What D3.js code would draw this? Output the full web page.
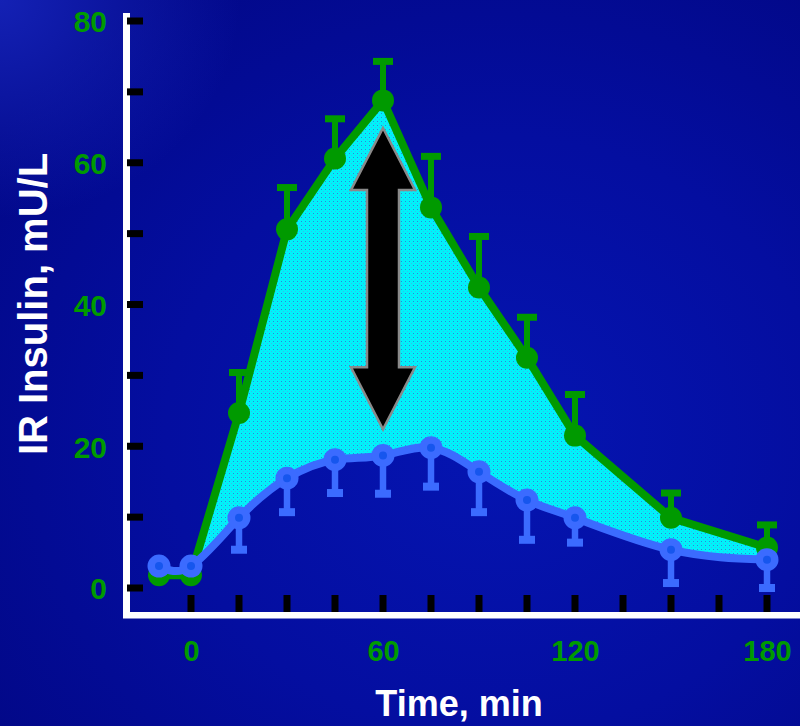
<!DOCTYPE html>
<html>
<head>
<meta charset="utf-8">
<script src="https://cdn.jsdelivr.net/npm/d3@7"></script>
<style>
  html, body { margin: 0; padding: 0; background: #030a8e; }
  svg { display: block; }
  text { font-family: "Liberation Sans", Arial, sans-serif; font-weight: bold; }
</style>
</head>
<body>
<svg id="chart" width="800" height="726"></svg>
<script>
// Time points (min)
const times = [-10, 0, 15, 30, 45, 60, 75, 90, 105, 120, 150, 180];
// Upper group: mean insulin and upper error bound (mU/L)
const greenMean  = [1.8, 1.8, 24.7, 50.6, 60.6, 68.8, 53.7, 42.4, 32.5, 21.5, 9.9, 5.7];
const greenUpper = [null, null, 30.4, 56.5, 66.2, 74.3, 60.9, 49.6, 38.2, 27.3, 13.4, 8.9];
// Lower group: mean insulin and lower error bound (mU/L)
const blueMean  = [3.1, 3.1, 9.9, 15.5, 18.1, 18.7, 19.8, 16.4, 12.4, 9.9, 5.4, 4.0];
const blueLower = [null, null, 5.4, 10.7, 13.4, 13.3, 14.3, 10.7, 6.8, 6.4, 0.7, 0.0];
// Axis ticks
const yTickLabels = [0, 20, 40, 60, 80];
const yTickMarks = [0, 10, 20, 30, 40, 50, 60, 70, 80];
const xTickLabels = [0, 60, 120, 180];
const xTickMarks = [0, 15, 30, 45, 60, 75, 90, 105, 120, 135, 150, 165, 180];
// Difference arrow at 60 min (value range)
const arrowTime = 60;
const arrowRange = [22.4, 64.9];

const GREEN = "#009a00";
const BLUE = "#3b6bff";
const BLUE_DARK = "#1656ee";

const svg = d3.select("#chart");
const W = 800, H = 726;

const x = d3.scaleLinear().domain([0, 180]).range([191, 767]);
const y = d3.scaleLinear().domain([0, 80]).range([588, 21]);

// ---- background ----
const defs = svg.append("defs");
const bg = defs.append("radialGradient").attr("id", "bg")
  .attr("cx", 0.62).attr("cy", 0.6).attr("r", 0.75);
bg.append("stop").attr("offset", "0%").attr("stop-color", "#0515b2");
bg.append("stop").attr("offset", "55%").attr("stop-color", "#040ea0");
bg.append("stop").attr("offset", "100%").attr("stop-color", "#020888");
const glow = defs.append("radialGradient").attr("id", "glow")
  .attr("cx", 0).attr("cy", 0).attr("r", 0.3);
glow.append("stop").attr("offset", "0%").attr("stop-color", "#2235d8").attr("stop-opacity", 0.55);
glow.append("stop").attr("offset", "100%").attr("stop-color", "#2235d8").attr("stop-opacity", 0);
svg.append("rect").attr("width", W).attr("height", H).attr("fill", "url(#bg)");
svg.append("rect").attr("width", W).attr("height", H).attr("fill", "url(#glow)");

// dotted cyan fill
const pat = defs.append("pattern").attr("id", "dots")
  .attr("patternUnits", "userSpaceOnUse").attr("width", 4).attr("height", 4);
pat.append("rect").attr("width", 4).attr("height", 4).attr("fill", "#00f2fa")
  .attr("shape-rendering", "crispEdges");
pat.append("rect").attr("x", 1).attr("y", 1).attr("width", 1).attr("height", 1)
  .attr("fill", "#2a8ad8").attr("shape-rendering", "crispEdges");
pat.append("rect").attr("x", 3).attr("y", 3).attr("width", 1).attr("height", 1)
  .attr("fill", "#40b8e8").attr("shape-rendering", "crispEdges");

const green = times.map((t, i) => ({ t, v: greenMean[i], e: greenUpper[i] }));
const blue = times.map((t, i) => ({ t, v: blueMean[i], e: blueLower[i] }));

const greenLine = d3.line().x(d => x(d.t)).y(d => y(d.v)).curve(d3.curveLinear);
const blueLine = d3.line().x(d => x(d.t)).y(d => y(d.v)).curve(d3.curveNatural);

// ---- band between the two curves ----
const bandPath = greenLine(green) + "L" + blueLine(blue.slice().reverse()).slice(1) + "Z";
svg.append("path").attr("d", bandPath).attr("fill", "url(#dots)");

// ---- difference arrow ----
const ax = x(arrowTime), aTop = y(arrowRange[1]), aBot = y(arrowRange[0]);
const headW = 32, headL = 62, shaftW = 16;
const arrowPts = [
  [ax, aTop], [ax + headW, aTop + headL], [ax + shaftW, aTop + headL],
  [ax + shaftW, aBot - headL], [ax + headW, aBot - headL], [ax, aBot],
  [ax - headW, aBot - headL], [ax - shaftW, aBot - headL],
  [ax - shaftW, aTop + headL], [ax - headW, aTop + headL]
];
svg.append("path").attr("d", d3.line()(arrowPts) + "Z")
  .attr("fill", "#000").attr("stroke", "#8a8a8a").attr("stroke-width", 2.5)
  .attr("stroke-linejoin", "miter");

// ---- upper group ----
svg.append("path").attr("d", greenLine(green)).attr("fill", "none")
  .attr("stroke", GREEN).attr("stroke-width", 8).attr("stroke-linejoin", "round");
const gErr = green.filter(d => d.e != null);
svg.selectAll(".gstem").data(gErr).join("line")
  .attr("x1", d => x(d.t)).attr("x2", d => x(d.t))
  .attr("y1", d => y(d.v)).attr("y2", d => y(d.e))
  .attr("stroke", GREEN).attr("stroke-width", 6);
svg.selectAll(".gcap").data(gErr).join("rect")
  .attr("x", d => x(d.t) - 10).attr("y", d => y(d.e) - 3.5)
  .attr("width", 20).attr("height", 7).attr("fill", GREEN);
svg.selectAll(".gdot").data(green).join("circle")
  .attr("cx", d => x(d.t)).attr("cy", d => y(d.v)).attr("r", 11).attr("fill", GREEN);

// ---- lower group ----
svg.append("path").attr("d", blueLine(blue)).attr("fill", "none")
  .attr("stroke", BLUE).attr("stroke-width", 8).attr("stroke-linecap", "round");
const bErr = blue.filter(d => d.e != null);
svg.selectAll(".bstem").data(bErr).join("line")
  .attr("x1", d => x(d.t)).attr("x2", d => x(d.t))
  .attr("y1", d => y(d.v)).attr("y2", d => y(d.e))
  .attr("stroke", BLUE).attr("stroke-width", 6.5);
svg.selectAll(".bcap").data(bErr).join("rect")
  .attr("x", d => x(d.t) - 8).attr("y", d => y(d.e) - 4)
  .attr("width", 16).attr("height", 8).attr("fill", BLUE);
svg.selectAll(".bdot").data(blue).join("circle")
  .attr("cx", d => x(d.t)).attr("cy", d => y(d.v)).attr("r", 11.5).attr("fill", BLUE);
svg.selectAll(".bin").data(blue).join("circle")
  .attr("cx", d => x(d.t)).attr("cy", d => y(d.v)).attr("r", 4).attr("fill", BLUE_DARK);

// ---- axes ----
svg.append("rect").attr("x", 123).attr("y", 13).attr("width", 7).attr("height", 605).attr("fill", "#fff");
svg.append("rect").attr("x", 123).attr("y", 612).attr("width", W - 123).attr("height", 6.5).attr("fill", "#fff");

svg.selectAll(".ytick").data(yTickMarks).join("rect")
  .attr("x", 127).attr("y", d => y(d) - 3.5).attr("width", 16).attr("height", 7).attr("fill", "#000");
svg.selectAll(".xtick").data(xTickMarks).join("rect")
  .attr("x", d => x(d) - 3.5).attr("y", 595).attr("width", 7).attr("height", 17).attr("fill", "#000");

const yAxis = d3.axisLeft(y).tickValues(yTickLabels).tickSize(0).tickPadding(0);
const yg = svg.append("g").attr("transform", "translate(107,0)").call(yAxis);
yg.select(".domain").remove();
yg.selectAll("text").attr("fill", GREEN).style("font-size", "30px")
  .style("font-family", "'Liberation Sans', Arial, sans-serif").style("font-weight", "bold")
  .attr("dy", "0.36em").attr("x", 0);

const xAxis = d3.axisBottom(x).tickValues(xTickLabels).tickSize(0).tickPadding(0);
const xg = svg.append("g").attr("transform", "translate(0,640)").call(xAxis);
xg.select(".domain").remove();
xg.selectAll("text").attr("fill", GREEN).style("font-size", "29px")
  .style("font-family", "'Liberation Sans', Arial, sans-serif").style("font-weight", "bold")
  .attr("dy", "0.71em").attr("y", 0);

// ---- titles ----
svg.append("text").attr("x", 459).attr("y", 716).attr("text-anchor", "middle")
  .attr("fill", "#fff").style("font-size", "36px").text("Time, min");
svg.append("text").attr("transform", "translate(47,304) rotate(-90)").attr("text-anchor", "middle")
  .attr("fill", "#fff").style("font-size", "40px").text("IR Insulin, mU/L");
</script>
</body>
</html>
